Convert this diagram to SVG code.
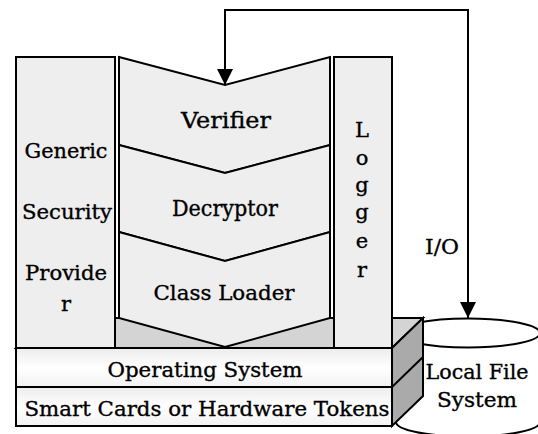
<svg xmlns="http://www.w3.org/2000/svg" width="538" height="434" viewBox="0 0 538 434">
<style>
.s{stroke:#000;stroke-width:2;stroke-linejoin:miter}
.lt{fill:#eeeeee}
.t{font-family:"DejaVu Serif","Liberation Serif",serif;fill:#000;stroke:#000;stroke-width:0.35;text-anchor:middle}
.ln{fill:none;stroke:#000;stroke-width:2}
</style>
<defs>
<marker id="ah" markerUnits="userSpaceOnUse" markerWidth="18" markerHeight="18" refX="16" refY="8" orient="auto-start-reverse">
<path d="M0,0 L16,8 L0,16 z" fill="#000"/>
</marker>
<linearGradient id="pg" x1="0" y1="0" x2="0" y2="1">
<stop offset="0" stop-color="#ececec"/>
<stop offset="0.5" stop-color="#ffffff"/>
<stop offset="1" stop-color="#f2f2f2"/>
</linearGradient>
</defs>
<g id="local-file-system">
<path class="s" d="M396,333 V422 A72,14.5 0 0 0 540,422 V333" fill="#fff"/>
<ellipse class="s" cx="468" cy="333" rx="72" ry="14.5" fill="#fff"/>
<text class="t" x="477" y="379" font-size="21" textLength="103" lengthAdjust="spacingAndGlyphs">Local File</text>
<text class="t" x="477" y="407" font-size="21" textLength="80" lengthAdjust="spacingAndGlyphs">System</text>
</g>
<g id="platform">
<polygon class="s" points="16,348 47,318 423,318 392,348" fill="#d4d4d4"/>
<polygon class="s" points="392,348 423,318 423,396 392,426" fill="#aaaaaa"/>
<line class="s" x1="392" y1="387" x2="423" y2="357"/>
</g>
<g id="operating-system">
<rect class="s" x="16" y="348" width="376" height="39" fill="url(#pg)"/>
<text class="t" x="205" y="377" font-size="21" textLength="195" lengthAdjust="spacingAndGlyphs">Operating System</text>
</g>
<g id="smart-cards">
<rect class="s" x="16" y="387" width="376" height="39" fill="url(#pg)"/>
<text class="t" x="207" y="416" font-size="21" textLength="365" lengthAdjust="spacingAndGlyphs">Smart Cards or Hardware Tokens</text>
</g>
<g id="generic-security-provider">
<rect class="s lt" x="16" y="57" width="99" height="291"/>
<text class="t" x="66" y="158" font-size="21" textLength="83" lengthAdjust="spacingAndGlyphs">Generic</text>
<text class="t" x="67" y="219" font-size="21" textLength="90" lengthAdjust="spacingAndGlyphs">Security</text>
<text class="t" x="66" y="280" font-size="21" textLength="82" lengthAdjust="spacingAndGlyphs">Provide</text>
<text class="t" x="66" y="311" font-size="21">r</text>
</g>
<g id="verifier">
<polygon class="s lt" points="119,57 225,85 330,57 330,145 225,173 119,145"/>
<text class="t" x="226" y="128" font-size="22" textLength="90" lengthAdjust="spacingAndGlyphs">Verifier</text>
</g>
<g id="decryptor">
<polygon class="s lt" points="119,145 225,173 330,145 330,232 225,261 119,232"/>
<text class="t" x="225" y="216" font-size="22" textLength="106" lengthAdjust="spacingAndGlyphs">Decryptor</text>
</g>
<g id="class-loader">
<polygon class="s lt" points="119,232 225,261 330,232 330,318 225,347 119,318"/>
<text class="t" x="224" y="300" font-size="20" textLength="141" lengthAdjust="spacingAndGlyphs">Class Loader</text>
</g>
<g id="logger">
<rect class="s lt" x="334" y="57" width="58" height="291"/>
<text class="t" font-size="21"><tspan x="362" y="137">L</tspan><tspan x="362" y="165">o</tspan><tspan x="362" y="192">g</tspan><tspan x="362" y="219">g</tspan><tspan x="362" y="248">e</tspan><tspan x="362" y="277">r</tspan></text>
</g>
<g id="connectors">
<path class="ln" d="M225,85 V10 H468 V318" marker-start="url(#ah)" marker-end="url(#ah)"/>
<text class="t" x="442" y="254" font-size="21" textLength="34" lengthAdjust="spacingAndGlyphs">I/O</text>
</g>
</svg>
